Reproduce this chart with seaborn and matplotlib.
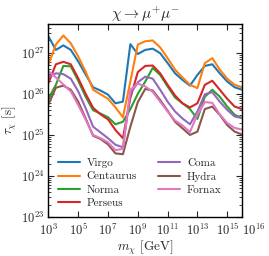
import numpy as np
import pandas as pd
import matplotlib
matplotlib.use("Agg")
import matplotlib.pyplot as plt
import matplotlib.ticker as mticker
import seaborn as sns

# mass grid: log10(m / GeV) from 3 to 16 in half decades
log_mass = [3.0, 3.5, 4.0, 4.5, 5.0, 5.5, 6.0, 6.5, 7.0, 7.5, 8.0, 8.5, 9.0, 9.5,
            10.0, 10.5, 11.0, 11.5, 12.0, 12.5, 13.0, 13.5, 14.0, 14.5, 15.0, 15.5, 16.0]

# log10(tau / s)
virgo = [27.40, 27.07, 27.18, 27.07, 26.79, 26.47, 26.16, 26.08, 25.98, 25.77, 25.81, 27.21, 26.97, 27.07,
         27.10, 26.99, 26.75, 26.50, 26.34, 26.20, 26.46, 26.68, 26.72, 26.50, 26.30, 26.16, 26.10]
centaurus = [26.71, 27.20, 27.42, 27.23, 26.91, 26.54, 26.10, 25.99, 25.88, 25.67, 25.43, 26.30, 27.20, 27.28,
             27.30, 27.13, 26.87, 26.59, 26.40, 26.22, 26.14, 26.75, 26.87, 26.59, 26.37, 26.22, 26.16]
norma = [25.88, 26.22, 26.68, 26.67, 26.32, 25.93, 25.60, 25.52, 25.43, 25.26, 25.32, 25.63, 26.00, 26.30,
         26.63, 26.46, 26.18, 25.91, 25.77, 25.63, 25.39, 25.93, 26.10, 25.93, 25.69, 25.49, 25.41]
perseus = [26.26, 26.72, 26.78, 26.72, 26.38, 26.00, 25.66, 25.50, 25.38, 25.12, 24.92, 25.90, 26.53, 26.68,
           26.69, 26.50, 26.22, 25.96, 25.77, 25.67, 25.77, 26.22, 26.32, 26.10, 25.88, 25.69, 25.63]
coma = [26.41, 26.50, 26.48, 26.37, 26.06, 25.65, 25.20, 25.06, 24.92, 24.76, 24.70, 26.00, 26.28, 26.42,
        26.37, 26.10, 25.81, 25.57, 25.40, 25.26, 25.57, 25.99, 26.04, 25.81, 25.61, 25.45, 25.41]
hydra = [25.74, 26.15, 26.20, 26.10, 25.81, 25.40, 24.98, 24.90, 24.77, 24.55, 24.53, 25.20, 25.80, 26.12,
         26.08, 25.85, 25.59, 25.32, 25.16, 25.00, 25.08, 25.63, 25.69, 25.49, 25.24, 25.08, 25.01]
fornax = [26.55, 26.40, 26.23, 26.06, 25.73, 25.37, 25.00, 24.92, 24.82, 24.63, 24.66, 26.10, 26.25, 26.18,
          26.05, 25.81, 25.57, 25.35, 25.23, 25.07, 25.50, 25.80, 25.78, 25.50, 25.29, 25.17, 25.13]

clusters = ["Virgo", "Centaurus", "Norma", "Perseus", "Coma", "Hydra", "Fornax"]
series = [virgo, centaurus, norma, perseus, coma, hydra, fornax]
colors = ["#1f77b4", "#ff7f0e", "#2ca02c", "#d62728", "#9467bd", "#8c564b", "#e377c2"]

xtick_exp = [3, 5, 7, 9, 11, 13, 15, 16]
ytick_exp = [23, 24, 25, 26, 27]

# long-form table for seaborn
rows = []
for name, vals in zip(clusters, series):
    for lm, lt in zip(log_mass, vals):
        rows.append({"mass": 10 ** lm, "tau": 10 ** lt, "cluster": name})
df = pd.DataFrame(rows)

sns.set_theme(style="ticks")
plt.rcParams["font.family"] = "serif"
plt.rcParams["font.serif"] = ["cmr10", "DejaVu Serif"]
plt.rcParams["mathtext.fontset"] = "cm"
plt.rcParams["axes.unicode_minus"] = False
plt.rcParams["axes.formatter.use_mathtext"] = True

fig = plt.figure(figsize=(2.69, 2.56), dpi=100)
ax = fig.add_axes([0.180, 0.152, 0.720, 0.754])

sns.lineplot(data=df, x="mass", y="tau", hue="cluster", hue_order=clusters,
             palette=colors, linewidth=1.5, ax=ax)

ax.set_xscale("log")
ax.set_yscale("log")
ax.set_xlim(1e3, 1e16)
ax.set_ylim(1e23, 5e27)

ax.xaxis.set_major_locator(mticker.FixedLocator([10.0 ** e for e in xtick_exp]))
ax.xaxis.set_major_formatter(mticker.FixedFormatter([r"$10^{%d}$" % e for e in xtick_exp]))
ax.xaxis.set_minor_locator(mticker.NullLocator())
ax.yaxis.set_major_locator(mticker.FixedLocator([10.0 ** e for e in ytick_exp]))
ax.yaxis.set_major_formatter(mticker.FixedFormatter([r"$10^{%d}$" % e for e in ytick_exp]))
ax.yaxis.set_minor_locator(mticker.LogLocator(base=10, subs=np.arange(2, 10), numticks=20))
ax.yaxis.set_minor_formatter(mticker.NullFormatter())

ax.tick_params(which="both", direction="in", top=True, right=True, labelsize=9)
ax.tick_params(which="major", length=4, width=0.8)
ax.tick_params(which="minor", length=2, width=0.6)
ax.tick_params(axis="x", which="major", pad=4)
ax.tick_params(axis="y", which="major", pad=3)
for sp in ax.spines.values():
    sp.set_linewidth(1.0)
    sp.set_color("black")

# last x label sits to the right of its tick so it does not run into 10^15
fig.canvas.draw()
ax.xaxis.get_major_ticks()[-1].label1.set_horizontalalignment("left")

ax.set_title(r"$\chi \to \mu^{+}\mu^{-}$", fontsize=11, pad=4)
ax.set_xlabel(r"$m_\chi$ [GeV]", fontsize=9.5, labelpad=0)
ax.set_ylabel(r"$\tau_\chi$ [s]", fontsize=9.5, labelpad=1)

ax.legend(ncol=2, frameon=False, loc="lower left", fontsize=8,
          handlelength=2.0, handletextpad=0.6, columnspacing=1.9, labelspacing=0.3,
          borderaxespad=0.1, bbox_to_anchor=(0.02, 0.02))

fig.savefig("out.png", dpi=100)
